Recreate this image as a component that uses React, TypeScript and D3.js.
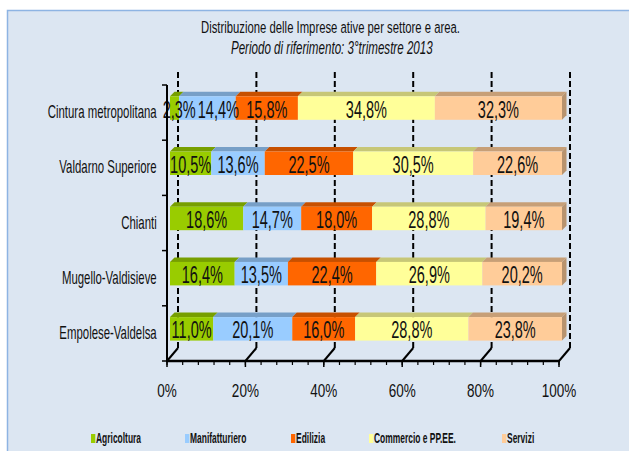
import React from "react";
import * as d3 from "d3";

const categories = [
  "Cintura metropolitana",
  "Valdarno Superiore",
  "Chianti",
  "Mugello-Valdisieve",
  "Empolese-Valdelsa",
];
const seriesNames = ["Agricoltura", "Manifatturiero", "Edilizia", "Commercio e PP.EE.", "Servizi"];
const agricoltura = [2.3, 10.5, 18.6, 16.4, 11.0];
const manifatturiero = [14.4, 13.6, 14.7, 13.5, 20.1];
const edilizia = [15.8, 22.5, 18.0, 22.4, 16.0];
const commercio = [34.8, 30.5, 28.8, 26.9, 28.8];
const servizi = [32.3, 22.6, 19.4, 20.2, 23.8];
const seriesColors = ["#99CC00", "#99CCFF", "#FF6600", "#FFFF99", "#FFCC99"];
const xTicks = [0, 0.2, 0.4, 0.6, 0.8, 1];
const title = "Distribuzione delle Imprese ative per settore e area.";
const subtitle = "Periodo di riferimento: 3°trimestre 2013";

const seriesValues = [agricoltura, manifatturiero, edilizia, commercio, servizi];

const FONT = "'Liberation Sans', Arial, sans-serif";

function T({ x, y, f, sx = 0.82, sy = 1.3, anchor = "start", weight = "normal", italic = false, fill = "#111", children }: any) {
  return (
    <text
      transform={`translate(${x},${y}) scale(${sx},${sy})`}
      fontSize={f}
      fontFamily={FONT}
      textAnchor={anchor}
      fontWeight={weight}
      fontStyle={italic ? "italic" : "normal"}
      fill={fill}
    >
      {children}
    </text>
  );
}

function textWidth(s: string, f: number, sx: number) {
  let em = 0;
  for (const ch of s) {
    if (ch === ",") em += 0.278;
    else if (ch === "%") em += 0.889;
    else em += 0.556;
  }
  return em * f * sx;
}

export default function App() {
  const W = 629, H = 451;
  const x = d3.scaleLinear().domain([0, 1]).range([167, 559]);
  const y = d3.scaleBand<string>().domain(categories).range([85, 361]).paddingInner(0).paddingOuter(0);
  const wallDx = 11, wallDy = -13;
  const barShift = 3;
  const bd = 4.5;
  const floorY = 361;
  const wallTop = 72;
  const lf = 17.7, lsx = 0.82;

  const rows = categories.map((c, i) => {
    const r: any = { cat: c };
    seriesNames.forEach((s, k) => (r[s] = seriesValues[k][i]));
    return r;
  });
  const stack = d3.stack<any>().keys(seriesNames).offset(d3.stackOffsetExpand);
  const stacked = stack(rows);

  const minorTicks = d3.range(0, 1.0001, 0.04);
  const fmt = (v: number) => v.toFixed(1).replace(".", ",") + "%";

  const legendX = [91, 185, 291, 369, 502];

  return (
    <svg width={W} height={H} style={{ position: "absolute", left: 0, top: 0 }}>
      <rect x={0} y={0} width={W} height={H} fill="#ffffff" />
      <rect x={7.5} y={10.5} width={W} height={H} fill="#DCE6F2" stroke="#8EB4E3" strokeWidth={1.5} />

      <T x={330.5} y={32.7} f={13.8} sy={1.21} anchor="middle">{title}</T>
      <T x={331.8} y={54} f={14.15} sy={1.3} anchor="middle" italic>{subtitle}</T>

      {xTicks.map((t) => (
        <g key={"g" + t}>
          <line x1={x(t) + wallDx} x2={x(t) + wallDx} y1={wallTop} y2={floorY + wallDy} stroke="#000" strokeWidth={2} strokeDasharray="6,3" />
          <line x1={x(t)} y1={floorY} x2={x(t) + wallDx} y2={floorY + wallDy} stroke="#000" strokeWidth={2} />
        </g>
      ))}

      {categories.map((c, i) => {
        const c0 = (y(c) as number) + y.bandwidth() / 2;
        const top = c0 - 16.3;
        const bot = c0 + 7.2;
        // label positions with simple collision push
        let prevRight = 162.7 - 2;
        const labelPos = stacked.map((s, k) => {
          const d = s[i];
          const cx = (x(d[0]) + x(d[1])) / 2 + barShift;
          const txt = fmt(seriesValues[k][i]);
          const w = textWidth(txt, lf, lsx);
          let left = cx - w / 2;
          if (left < prevRight + 2) left = prevRight + 2;
          prevRight = left + w;
          return { cx: left + w / 2, txt };
        });
        return (
          <g key={c}>
            {stacked.map((s, k) => {
              const d = s[i];
              const x0 = x(d[0]) + barShift;
              const x1 = x(d[1]) + barShift;
              const rgb = d3.rgb(seriesColors[k]);
              const tc = d3.rgb(rgb.r * 0.78, rgb.g * 0.78, rgb.b * 0.78).toString();
              const sc = d3.rgb(rgb.r * 0.72, rgb.g * 0.72, rgb.b * 0.72).toString();
              return (
                <g key={k}>
                  <path d={`M${x0},${top}L${x1},${top}L${x1 + bd},${top - bd}L${x0 + bd},${top - bd}Z`} fill={tc} />
                  <rect x={x0} y={top} width={x1 - x0} height={bot - top} fill={seriesColors[k]} />
                  {k === seriesNames.length - 1 && (
                    <path d={`M${x1},${top}L${x1 + bd},${top - bd}L${x1 + bd},${bot - bd}L${x1},${bot}Z`} fill={sc} />
                  )}
                </g>
              );
            })}
            {labelPos.map((p, k) => (
              <T key={"l" + k} x={p.cx} y={(top + bot) / 2 + 9.6} f={lf} sx={lsx} sy={1.32} anchor="middle">
                {p.txt}
              </T>
            ))}
            <T x={156.7} y={c0 + 5.6} f={13.9} sy={1.28} anchor="end">{c}</T>
          </g>
        );
      })}

      <line x1={167} x2={167} y1={85} y2={floorY} stroke="#000" strokeWidth={2} />
      {categories.concat([""]).map((c, i) => {
        const yy = 85 + i * y.bandwidth();
        return <line key={"ct" + i} x1={162} x2={167} y1={yy} y2={yy} stroke="#000" strokeWidth={1.5} />;
      })}
      <line x1={166} x2={560} y1={floorY} y2={floorY} stroke="#000" strokeWidth={2.5} />
      {minorTicks.map((t, i) => (
        <line key={"mt" + i} x1={x(t)} x2={x(t)} y1={floorY} y2={floorY + 4} stroke="#000" strokeWidth={1.2} />
      ))}
      {xTicks.map((t) => (
        <g key={"xt" + t}>
          <line x1={x(t)} x2={x(t)} y1={floorY} y2={floorY + 6} stroke="#000" strokeWidth={1.5} />
          <T x={x(t)} y={396.7} f={16.5} sy={1.12} anchor="middle">{Math.round(t * 100) + "%"}</T>
        </g>
      ))}

      {seriesNames.map((s, k) => (
        <g key={"lg" + k}>
          <rect x={legendX[k]} y={434} width={4.3} height={9} fill={seriesColors[k]} />
          <T x={legendX[k] + 5} y={443.3} f={10.3} sy={1.35} weight="bold">{s}</T>
        </g>
      ))}
    </svg>
  );
}
